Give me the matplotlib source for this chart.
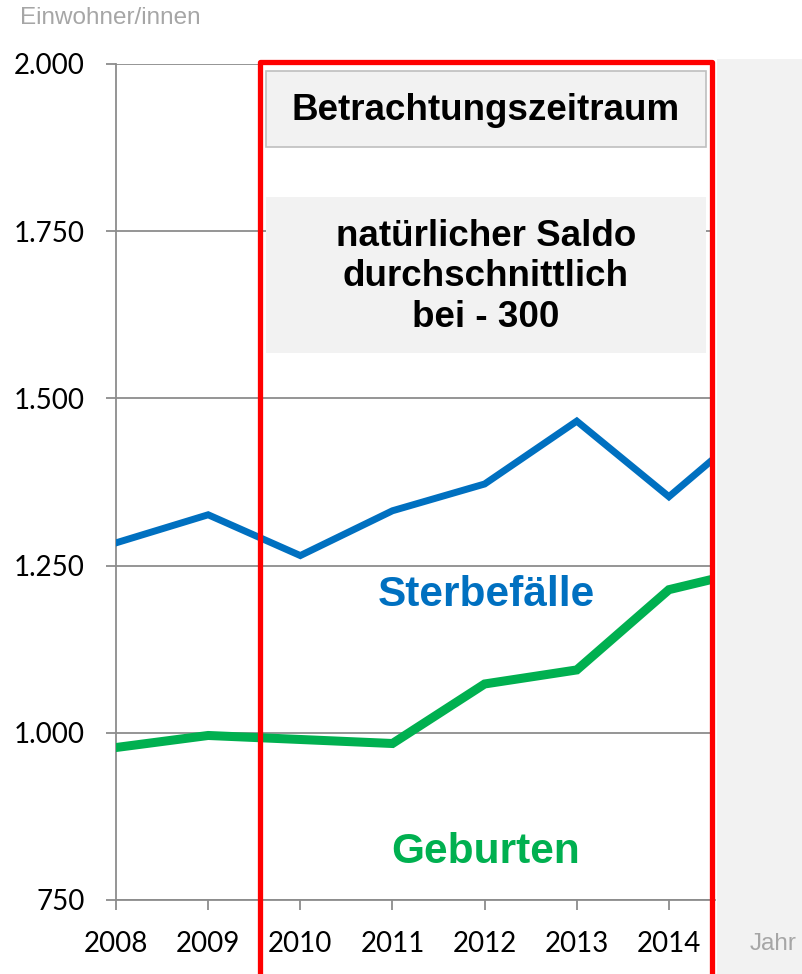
import matplotlib
matplotlib.use("Agg")
import matplotlib.pyplot as plt
from matplotlib.patches import Rectangle

# data
years = [2008, 2009, 2010, 2011, 2012, 2013, 2014, 2015]
deaths = [1284, 1326, 1265, 1332, 1372, 1466, 1353, 1470]
births = [978, 996, 990, 984, 1073, 1094, 1214, 1247]
yticks = [750, 1000, 1250, 1500, 1750, 2000]
ytick_labels = ["750", "1.000", "1.250", "1.500", "1.750", "2.000"]
xticks = [2008, 2009, 2010, 2011, 2012, 2013, 2014]

W, H = 803, 974
fig = plt.figure(figsize=(W / 100, H / 100), dpi=100)

def fx(px):
    return px / W

def fy(py):
    return 1 - py / H

# grey area on the right
fig.patches.append(Rectangle((fx(717), 0), 1 - fx(717), fy(59), transform=fig.transFigure,
                             facecolor="#f2f2f2", edgecolor="none", zorder=-1))

ax = fig.add_axes([fx(116), fy(900), fx(715) - fx(116), fy(64) - fy(900)])
ax.set_xlim(2008, 2014.5)
ax.set_ylim(750, 2000)

grid_col = "#8c8c8c"
for v in yticks:
    ax.axhline(v, color=grid_col, lw=1.3, zorder=1)

ax.plot(years, deaths, color="#0070C0", lw=5, zorder=3, solid_joinstyle="miter")
ax.plot(years, births, color="#00B050", lw=6.5, zorder=3, solid_joinstyle="miter")

ax.set_yticks(yticks)
ax.set_yticklabels(ytick_labels)
ax.set_xticks(xticks)
for s in ["top", "right"]:
    ax.spines[s].set_visible(False)
for s in ["left", "bottom"]:
    ax.spines[s].set_color(grid_col)
    ax.spines[s].set_linewidth(1.3)
ax.tick_params(axis="y", length=7, width=1.3, color=grid_col, pad=15.5, labelsize=20)
ax.tick_params(axis="x", length=7, width=1.3, color=grid_col, pad=15, labelsize=20)
for lab in ax.get_xticklabels() + ax.get_yticklabels():
    lab.set_fontfamily("Lato")

# red frame marking the period
fig.patches.append(Rectangle((fx(259.5), -0.05), fx(711.5) - fx(259.5), fy(62) + 0.05,
                             transform=fig.transFigure, facecolor="none", edgecolor="#FF0000",
                             lw=3.8, joinstyle="round", zorder=5))

# text boxes
fig.patches.append(Rectangle((fx(266), fy(147)), fx(706) - fx(266), fy(71) - fy(147),
                             transform=fig.transFigure, facecolor="#f2f2f2", edgecolor="#bfbfbf",
                             lw=1.2, zorder=6))
fig.text(fx(486), fy(110), "Betrachtungszeitraum", ha="center", va="center",
         fontsize=26.5, fontweight="bold", family="Liberation Sans", zorder=7)

fig.patches.append(Rectangle((fx(266), fy(353)), fx(706) - fx(266), fy(197) - fy(353),
                             transform=fig.transFigure, facecolor="#f2f2f2", edgecolor="none",
                             zorder=6))
fig.text(fx(486), fy(277), "natürlicher Saldo\ndurchschnittlich\nbei - 300", ha="center",
         va="center", fontsize=26.5, fontweight="bold", family="Liberation Sans",
         linespacing=1.2, zorder=7)

fig.text(fx(486), fy(595), "Sterbefälle", ha="center", va="center", color="#0070C0",
         fontsize=30.5, fontweight="bold", family="Liberation Sans", zorder=7)
fig.text(fx(486), fy(852), "Geburten", ha="center", va="center", color="#00B050",
         fontsize=30.5, fontweight="bold", family="Liberation Sans", zorder=7)

fig.text(fx(20), fy(18), "Einwohner/innen", ha="left", va="center", color="#a6a6a6",
         fontsize=17.5, family="Liberation Sans")
fig.text(fx(750), fy(944), "Jahr", ha="left", va="center", color="#a6a6a6",
         fontsize=17.5, family="Liberation Sans")

fig.savefig("out.png", dpi=100)
